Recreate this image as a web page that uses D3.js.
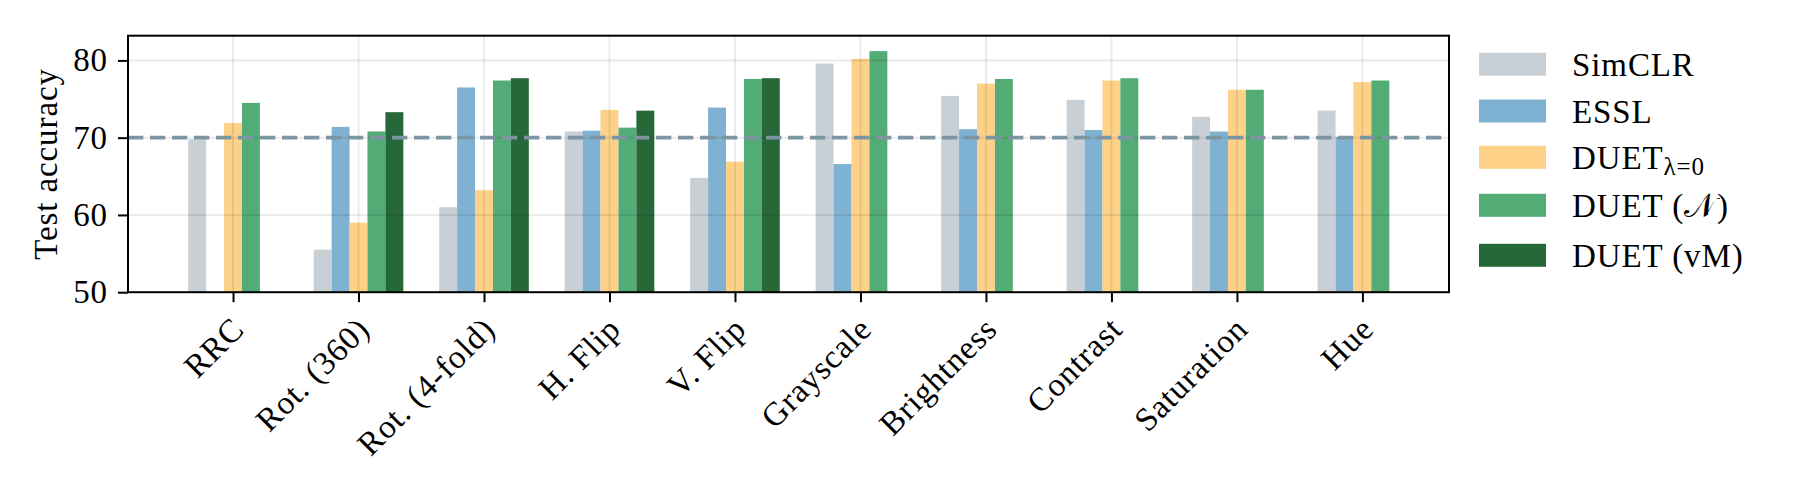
<!DOCTYPE html>
<html>
<head>
<meta charset="utf-8">
<script src="https://cdn.jsdelivr.net/npm/d3@7"></script>
<style>
  body { margin: 0; background: #fff; }
  svg { display: block; font-family: "Liberation Serif", serif; }
  .lbl { letter-spacing: 0.9px; }
</style>
</head>
<body>
<svg width="1800" height="500"></svg>
<script>
// data
const categories = ["RRC", "Rot. (360)", "Rot. (4-fold)", "H. Flip", "V. Flip",
  "Grayscale", "Brightness", "Contrast", "Saturation", "Hue"];
const simclr = [69.8, 55.5, 61.0, 70.8, 64.8, 79.6, 75.4, 74.9, 72.7, 73.5];
const essl   = [null, 71.4, 76.5, 70.9, 73.9, 66.6, 71.1, 71.0, 70.8, 70.1];
const duet0  = [71.9, 59.0, 63.2, 73.6, 66.9, 80.2, 77.0, 77.4, 76.2, 77.2];
const duetN  = [74.5, 70.8, 77.4, 71.3, 77.6, 81.2, 77.6, 77.7, 76.2, 77.4];
const duetVM = [null, 73.3, 77.7, 73.5, 77.7, null, null, null, null, null];
const baseline = 70;
const yTicks = [50, 60, 70, 80];

const seriesNames = ["SimCLR", "ESSL", "DUET_0", "DUET_N", "DUET_vM"];
const seriesValues = [simclr, essl, duet0, duetN, duetVM];
const colors = ["#c8d0d6", "#7fb1d2", "#fdd187", "#53ab76", "#276838"];

// layout
const plot = { left: 128, right: 1449, top: 35.7, bottom: 292.2 };
const barW = 1 / 7;
const fontSize = 33;

const svg = d3.select("svg");

const x = d3.scaleLinear()
  .domain([-0.837, 9.69])
  .range([plot.left, plot.right]);

const y = d3.scaleLinear()
  .domain([50, 83.2])
  .range([plot.bottom, plot.top]);

// bars
const barData = [];
seriesValues.forEach((vals, j) => {
  vals.forEach((v, i) => {
    if (v != null) barData.push({ i, j, v });
  });
});

svg.append("g").selectAll("rect")
  .data(barData)
  .enter().append("rect")
  .attr("x", d => x(d.i + (d.j - 2.5) * barW))
  .attr("width", d => x(d.i + (d.j - 1.5) * barW) - x(d.i + (d.j - 2.5) * barW))
  .attr("y", d => y(d.v))
  .attr("height", d => y(50) - y(d.v))
  .attr("fill", d => colors[d.j]);

// grid (drawn over the bars, faint)
const grid = svg.append("g")
  .attr("stroke", "#000")
  .attr("stroke-opacity", 0.08)
  .attr("stroke-width", 2);

grid.selectAll(".gx")
  .data(categories.map((c, i) => i))
  .enter().append("line")
  .attr("x1", d => x(d)).attr("x2", d => x(d))
  .attr("y1", plot.top).attr("y2", plot.bottom);

grid.selectAll(".gy")
  .data(yTicks.slice(1))
  .enter().append("line")
  .attr("x1", plot.left).attr("x2", plot.right)
  .attr("y1", d => y(d)).attr("y2", d => y(d));

// dashed reference line
svg.append("line")
  .attr("x1", plot.left).attr("x2", plot.right)
  .attr("y1", y(baseline)).attr("y2", y(baseline))
  .attr("stroke", "#7b95a3")
  .attr("stroke-width", 3.7)
  .attr("stroke-dasharray", "15.3,6.7");

// frame
svg.append("rect")
  .attr("x", plot.left).attr("y", plot.top)
  .attr("width", plot.right - plot.left)
  .attr("height", plot.bottom - plot.top)
  .attr("fill", "none")
  .attr("stroke", "#000")
  .attr("stroke-width", 2);

// y axis
const yAxis = svg.append("g")
  .attr("transform", `translate(${plot.left},0)`)
  .call(d3.axisLeft(y).tickValues(yTicks).tickSize(10).tickPadding(10))
  .call(g => g.select(".domain").remove());
yAxis.selectAll(".tick line").attr("stroke-width", 2);
yAxis.selectAll(".tick text")
  .attr("class", "lbl")
  .attr("font-family", "Liberation Serif")
  .attr("font-size", fontSize)
  .attr("fill", "#000");

// x axis ticks
const xAxis = svg.append("g")
  .attr("transform", `translate(0,${plot.bottom})`)
  .call(d3.axisBottom(x).tickValues(categories.map((c, i) => i)).tickSize(10).tickFormat(""))
  .call(g => g.select(".domain").remove());
xAxis.selectAll(".tick line").attr("stroke-width", 2);

svg.append("g").selectAll("text")
  .data(categories)
  .enter().append("text")
  .attr("class", "lbl")
  .attr("transform", (d, i) => `translate(${x(i) + 13},331) rotate(-45)`)
  .attr("text-anchor", "end")
  .attr("font-size", fontSize)
  .text(d => d);

// y label
svg.append("text")
  .attr("class", "lbl")
  .attr("transform", `translate(57,${(plot.top + plot.bottom) / 2}) rotate(-90)`)
  .attr("text-anchor", "middle")
  .attr("font-size", fontSize)
  .text("Test accuracy");

// legend
const legendY = [64.2, 111, 157.3, 205.3, 255.3];
const legend = svg.append("g");

legend.selectAll("rect")
  .data(seriesNames)
  .enter().append("rect")
  .attr("x", 1479)
  .attr("y", (d, j) => legendY[j] - 11.5)
  .attr("width", 67)
  .attr("height", 23)
  .attr("fill", (d, j) => colors[j]);

const labels = legend.selectAll("text")
  .data(seriesNames)
  .enter().append("text")
  .attr("class", "lbl")
  .attr("x", 1572)
  .attr("y", (d, j) => legendY[j] + 11.5)
  .attr("font-size", fontSize);

labels.each(function(d) {
  const t = d3.select(this);
  if (d === "DUET_0") {
    t.append("tspan").text("DUET");
    t.append("tspan").attr("font-size", 25).attr("dy", 6).text("λ=0");
  } else if (d === "DUET_N") {
    t.append("tspan").text("DUET (");
    t.append("tspan").text("𝒩");
    t.append("tspan").text(")");
  } else if (d === "DUET_vM") {
    t.text("DUET (vM)");
  } else {
    t.text(d);
  }
});
</script>
</body>
</html>
